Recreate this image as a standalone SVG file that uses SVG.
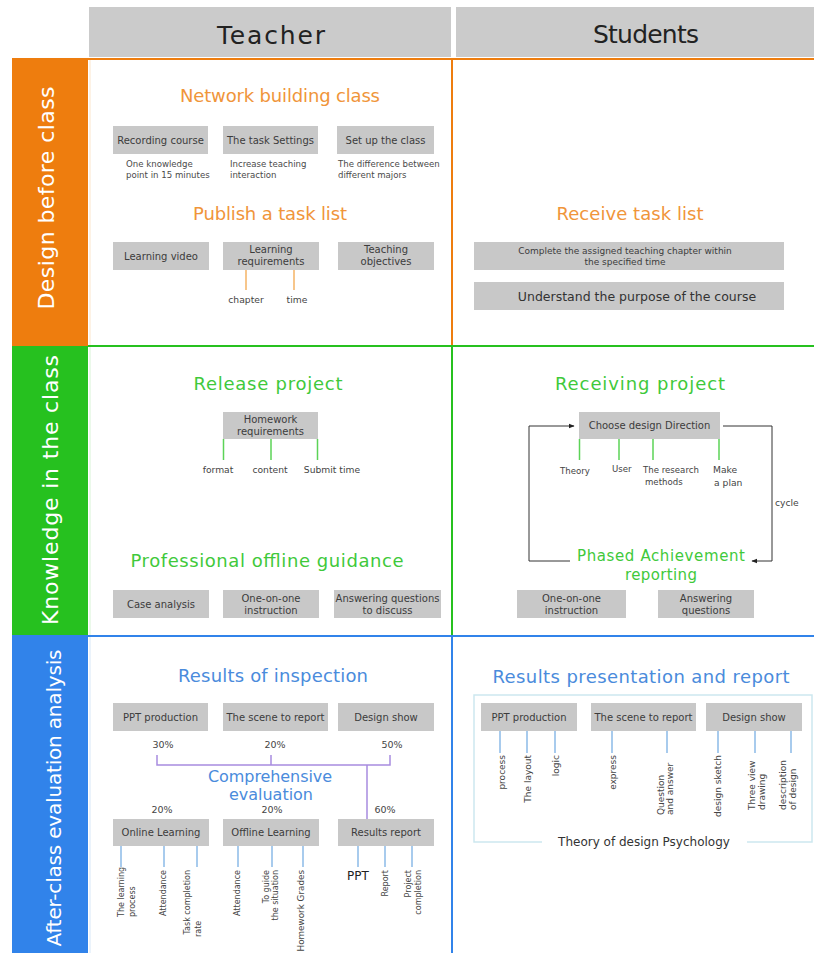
<svg xmlns="http://www.w3.org/2000/svg" width="814" height="953" viewBox="0 0 814 953">
<defs>
<style>
text{font-family:"DejaVu Sans","Liberation Sans",Arial,sans-serif}
.hd{fill:#cbcbcb}
.box{fill:#c8c8c8}
.ht{font-size:25px;fill:#222;text-anchor:middle}
.band{font-size:22px;fill:#fff;text-anchor:middle}
.bt{font-size:10px;fill:#3c3c3c;text-anchor:middle}
.sm{font-size:8.6px;fill:#4a4a4a}
.lb{font-size:9.2px;fill:#444}
.c{text-anchor:middle}
.e{text-anchor:end}
.ot{font-size:18px;fill:#f0953a;text-anchor:middle}
.gt{font-size:18px;fill:#3fc93b;text-anchor:middle}
.blt{font-size:18px;fill:#4a8bdc;text-anchor:middle}
.rt8{font-size:8px;fill:#444}
.rt9{font-size:9px;fill:#444}
.pc{font-size:9.5px;fill:#444;text-anchor:middle}
.ol{stroke:#f5b466;stroke-width:1.5;fill:none}
.gl{stroke:#5cd357;stroke-width:1.5;fill:none}
.bl{stroke:#8cbbe8;stroke-width:1.5;fill:none}
.pl{stroke:#a88ce0;stroke-width:1.5;fill:none}
.ar{stroke:#333;stroke-width:1;fill:none}
</style>
<marker id="ah" viewBox="0 0 10 10" refX="9" refY="5" markerWidth="6" markerHeight="6" orient="auto">
<path d="M0,1 L10,5 L0,9 z" fill="#222"/>
</marker>
</defs>
<rect width="814" height="953" fill="#fff"/>

<g id="headers">
<rect class="hd" x="89" y="7" width="362" height="50"/>
<rect class="hd" x="456" y="7" width="358" height="50"/>
<text class="ht" x="271" y="44" textLength="108" lengthAdjust="spacing">Teacher</text>
<text class="ht" x="646" y="43" textLength="106" lengthAdjust="spacing">Students</text>
</g>

<g id="bands">
<rect x="12" y="58" width="76" height="288" fill="#ee7d0e"/>
<rect x="12" y="346" width="76" height="289" fill="#26c11f"/>
<rect x="12" y="635" width="76" height="318" fill="#3183ea"/>
<text class="band" transform="translate(54,198) rotate(-90)" textLength="223" lengthAdjust="spacing">Design before class</text>
<text class="band" transform="translate(58,490) rotate(-90)" textLength="270" lengthAdjust="spacing">Knowledge in the class</text>
<text class="band" style="font-size:20px" transform="translate(61,798) rotate(-90)" textLength="297" lengthAdjust="spacing">After-class evaluation analysis</text>
</g>

<g id="grid">
<line x1="90" y1="60" x2="90" y2="345" stroke="#fbe6cc" stroke-width="1"/>
<line x1="90" y1="347" x2="90" y2="635" stroke="#d8f3d6" stroke-width="1"/>
<line x1="90" y1="637" x2="90" y2="953" stroke="#d8e8f8" stroke-width="1"/>
<line x1="88" y1="59" x2="814" y2="59" stroke="#ee7d0e" stroke-width="2"/>
<line x1="452" y1="59" x2="452" y2="346" stroke="#ee7d0e" stroke-width="2"/>
<line x1="88" y1="346" x2="814" y2="346" stroke="#26c11f" stroke-width="2"/>
<line x1="452" y1="346" x2="452" y2="636" stroke="#26c11f" stroke-width="2"/>
<line x1="88" y1="636" x2="814" y2="636" stroke="#3183ea" stroke-width="2"/>
<line x1="452" y1="636" x2="452" y2="953" stroke="#3183ea" stroke-width="2"/>
</g>

<g id="connectors">
<path class="ol" d="M246,270 V290 M294,270 V290"/>
<path class="gl" d="M223.5,439 V460 M271,439 V460 M317.5,439 V460"/>
<path class="gl" d="M579.5,439 V460 M619,439 V460 M653,439 V460 M719,439 V460"/>
<path class="ar" d="M723,426 H772 V561 H752" marker-end="url(#ah)"/>
<path class="ar" d="M570,561 H529 V426 H574" marker-end="url(#ah)"/>
<path class="pl" d="M157,755 V765 H390 V755 M271,755 V765 M367,765 V819"/>
<path class="bl" d="M121,846 V867 M164,846 V867 M197,846 V867 M238,846 V867 M272,846 V867 M303,846 V867 M358,846 V867 M385,846 V867 M412,846 V867"/>
<path class="bl" d="M500,731 V753 M527,731 V753 M555,731 V753 M612,731 V753 M667,731 V753 M718,731 V753 M755,731 V753 M791,731 V753"/>
<path d="M542,842 H474 V695 H812 V842 H747" stroke="#cde8ef" stroke-width="1.5" fill="none"/>
</g>

<g id="network-building-class">
<text class="ot" x="280" y="102" textLength="200" lengthAdjust="spacing">Network building class</text>
</g>
<g id="recording-course">
<rect class="box" x="113" y="126" width="95" height="28"/>
<text class="bt" x="160.5" y="143.5">Recording course</text>
<text class="sm" x="126" y="167">One knowledge</text>
<text class="sm" x="126" y="178">point in 15 minutes</text>
</g>
<g id="task-settings">
<rect class="box" x="223" y="126" width="95" height="28"/>
<text class="bt" x="270.5" y="143.5">The task Settings</text>
<text class="sm" x="230" y="167">Increase teaching</text>
<text class="sm" x="230" y="178">interaction</text>
</g>
<g id="set-up-class">
<rect class="box" x="337" y="126" width="97" height="28"/>
<text class="bt" x="385.5" y="143.5">Set up the class</text>
<text class="sm" x="338" y="167">The difference between</text>
<text class="sm" x="338" y="178">different majors</text>
</g>

<g id="publish-task-list">
<text class="ot" x="270" y="220" textLength="154" lengthAdjust="spacing">Publish a task list</text>
</g>
<g id="learning-video">
<rect class="box" x="113" y="242" width="96" height="28"/>
<text class="bt" x="161" y="259.5">Learning video</text>
</g>
<g id="learning-requirements">
<rect class="box" x="223" y="242" width="96" height="28"/>
<text class="bt" x="271" y="253">Learning</text>
<text class="bt" x="271" y="265">requirements</text>
<text class="lb c" x="246" y="303">chapter</text>
<text class="lb c" x="297" y="303">time</text>
</g>
<g id="teaching-objectives">
<rect class="box" x="338" y="242" width="96" height="28"/>
<text class="bt" x="386" y="253">Teaching</text>
<text class="bt" x="386" y="265">objectives</text>
</g>

<g id="receive-task-list">
<text class="ot" x="630" y="220" textLength="147" lengthAdjust="spacing">Receive task list</text>
</g>
<g id="complete-chapter">
<rect class="box" x="474" y="242" width="310" height="28"/>
<text class="bt" style="font-size:9px" x="625" y="254">Complete the assigned teaching chapter within</text>
<text class="bt" style="font-size:9px" x="625" y="265">the specified time</text>
</g>
<g id="understand-purpose">
<rect class="box" x="474" y="282" width="310" height="28"/>
<text class="bt" style="font-size:12.5px;fill:#333" x="637" y="300.5">Understand the purpose of the course</text>
</g>

<g id="release-project">
<text class="gt" x="268" y="390" textLength="149" lengthAdjust="spacing">Release project</text>
</g>
<g id="homework-requirements">
<rect class="box" x="223" y="412" width="95" height="27"/>
<text class="bt" x="270.5" y="423">Homework</text>
<text class="bt" x="270.5" y="434.5">requirements</text>
<text class="lb c" x="218" y="473">format</text>
<text class="lb c" x="270" y="473">content</text>
<text class="lb c" x="332" y="473">Submit time</text>
</g>

<g id="professional-offline-guidance">
<text class="gt" x="267" y="567" textLength="273" lengthAdjust="spacing">Professional offline guidance</text>
</g>
<g id="case-analysis">
<rect class="box" x="113" y="590" width="96" height="28"/>
<text class="bt" x="161" y="607.5">Case analysis</text>
</g>
<g id="one-on-one-teacher">
<rect class="box" x="223" y="590" width="96" height="28"/>
<text class="bt" x="271" y="602">One-on-one</text>
<text class="bt" x="271" y="614">instruction</text>
</g>
<g id="answering-discuss">
<rect class="box" x="334" y="590" width="107" height="28"/>
<text class="bt" x="387.5" y="602">Answering questions</text>
<text class="bt" x="387.5" y="614">to discuss</text>
</g>

<g id="receiving-project">
<text class="gt" x="640" y="390" textLength="170" lengthAdjust="spacing">Receiving project</text>
</g>
<g id="choose-design-direction">
<rect class="box" x="579" y="412" width="141" height="27"/>
<text class="bt" x="649.5" y="429">Choose design Direction</text>
<text class="lb" style="font-size:8.6px" x="560" y="474">Theory</text>
<text class="lb" style="font-size:8.6px" x="612" y="472">User</text>
<text class="lb" style="font-size:8.6px" x="643" y="473">The research</text>
<text class="lb" style="font-size:8.6px" x="645" y="485">methods</text>
<text class="lb" x="713" y="473">Make</text>
<text class="lb" x="714" y="486">a plan</text>
</g>
<g id="cycle-label">
<text class="lb" x="775" y="506">cycle</text>
</g>
<g id="phased-achievement">
<text class="gt" style="font-size:15px" x="661" y="561" textLength="168" lengthAdjust="spacing">Phased Achievement</text>
<text class="gt" style="font-size:15px" x="661" y="580" textLength="72" lengthAdjust="spacing">reporting</text>
</g>
<g id="one-on-one-student">
<rect class="box" x="517" y="590" width="109" height="28"/>
<text class="bt" x="571.5" y="602">One-on-one</text>
<text class="bt" x="571.5" y="614">instruction</text>
</g>
<g id="answering-questions">
<rect class="box" x="658" y="590" width="96" height="28"/>
<text class="bt" x="706" y="602">Answering</text>
<text class="bt" x="706" y="614">questions</text>
</g>

<g id="results-of-inspection">
<text class="blt" x="273" y="682" textLength="190" lengthAdjust="spacing">Results of inspection</text>
</g>
<g id="ppt-production-t">
<rect class="box" x="113" y="703" width="95" height="28"/>
<text class="bt" x="160.5" y="720.5">PPT production</text>
<text class="pc" x="163" y="748">30%</text>
</g>
<g id="scene-report-t">
<rect class="box" x="223" y="703" width="105" height="28"/>
<text class="bt" x="275.5" y="720.5">The scene to report</text>
<text class="pc" x="275" y="748">20%</text>
</g>
<g id="design-show-t">
<rect class="box" x="338" y="703" width="96" height="28"/>
<text class="bt" x="386" y="720.5">Design show</text>
<text class="pc" x="392" y="748">50%</text>
</g>
<g id="comprehensive-evaluation">
<text class="blt" style="font-size:16px" x="270" y="782" textLength="124" lengthAdjust="spacing">Comprehensive</text>
<text class="blt" style="font-size:16px" x="271" y="800" textLength="84" lengthAdjust="spacing">evaluation</text>
</g>
<g id="online-learning">
<text class="pc" x="162" y="813">20%</text>
<rect class="box" x="113" y="819" width="96" height="27"/>
<text class="bt" x="161" y="836">Online Learning</text>
<text class="rt8" transform="translate(124,917) rotate(-90)">The learning</text>
<text class="rt8" transform="translate(135,917) rotate(-90)">process</text>
<text class="rt8 e" transform="translate(166,870) rotate(-90)">Attendance</text>
<text class="rt8 e" transform="translate(190,870) rotate(-90)">Task completion</text>
<text class="rt8" transform="translate(201,937) rotate(-90)">rate</text>
</g>
<g id="offline-learning">
<text class="pc" x="272" y="813">20%</text>
<rect class="box" x="223" y="819" width="96" height="27"/>
<text class="bt" x="271" y="836">Offline Learning</text>
<text class="rt8 e" transform="translate(240,870) rotate(-90)">Attendance</text>
<text class="rt8 e" transform="translate(269,870) rotate(-90)">To guide</text>
<text class="rt8 e" transform="translate(278,870) rotate(-90)">the situation</text>
<text class="rt8 e" style="font-size:8.8px" transform="translate(304,870) rotate(-90)">Homework Grades</text>
</g>
<g id="results-report">
<text class="pc" x="385" y="813">60%</text>
<rect class="box" x="338" y="819" width="96" height="27"/>
<text class="bt" x="386" y="836">Results report</text>
<text style="font-size:12px;fill:#222;text-anchor:middle" x="358" y="880">PPT</text>
<text class="rt8 e" transform="translate(388,870) rotate(-90)">Report</text>
<text class="rt8 e" transform="translate(411,870) rotate(-90)">Project</text>
<text class="rt8 e" transform="translate(421,870) rotate(-90)">completion</text>
</g>

<g id="results-presentation">
<text class="blt" x="641" y="683" textLength="297" lengthAdjust="spacing">Results presentation and report</text>
</g>
<g id="ppt-production-s">
<rect class="box" x="481" y="703" width="96" height="28"/>
<text class="bt" x="529" y="720.5">PPT production</text>
<text class="rt9 e" transform="translate(505,755) rotate(-90)">process</text>
<text class="rt9 e" transform="translate(531,755) rotate(-90)">The layout</text>
<text class="rt9 e" transform="translate(559,755) rotate(-90)">logic</text>
</g>
<g id="scene-report-s">
<rect class="box" x="591" y="703" width="105" height="28"/>
<text class="bt" x="643.5" y="720.5">The scene to report</text>
<text class="rt9 e" transform="translate(616,755) rotate(-90)">express</text>
<text class="rt9" transform="translate(664,815) rotate(-90)">Question</text>
<text class="rt9" transform="translate(673,815) rotate(-90)">and answer</text>
</g>
<g id="design-show-s">
<rect class="box" x="706" y="703" width="96" height="28"/>
<text class="bt" x="754" y="720.5">Design show</text>
<text class="rt9 e" transform="translate(721,755) rotate(-90)">design sketch</text>
<text class="rt9" transform="translate(755,810) rotate(-90)">Three view</text>
<text class="rt9" transform="translate(765,810) rotate(-90)">drawing</text>
<text class="rt9" transform="translate(786,810) rotate(-90)">description</text>
<text class="rt9" transform="translate(796,810) rotate(-90)">of design</text>
</g>
<g id="theory-design-psychology">
<text style="font-size:12px;fill:#333;text-anchor:middle" x="644" y="846">Theory of design Psychology</text>
</g>
</svg>
